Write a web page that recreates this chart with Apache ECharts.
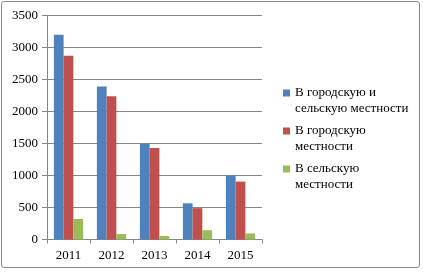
<!DOCTYPE html>
<html><head><meta charset="utf-8">
<script src="https://cdn.jsdelivr.net/npm/echarts@6/dist/echarts.min.js"></script>
<style>
html,body{margin:0;padding:0;background:#fff;}
#c{position:absolute;left:0;top:0;width:423px;height:272px;}
#f{position:absolute;left:1px;top:1px;width:419px;height:267px;border:1px solid #8a8a8a;border-radius:3px;box-sizing:border-box;}
</style></head><body>
<div id="c"></div><div id="f"></div>
<script>
var categories = ['2011','2012','2013','2014','2015'];
var seriesNames = ['В городскую и\nсельскую местности','В городскую\nместности','В сельскую\nместности'];
var totalValues = [3200, 2390, 1495, 565, 1000];
var urbanValues = [2870, 2240, 1430, 490, 905];
var ruralValues = [320, 85, 55, 145, 95];
var yTicks = [0, 500, 1000, 1500, 2000, 2500, 3000, 3500];
var colors = ['#4F81BD','#C0504D','#9BBB59'];
var font = '"Liberation Serif", "Times New Roman", serif';
var chart = echarts.init(document.getElementById('c'), null, {renderer:'canvas'});
chart.setOption({
  animation:false,
  color: colors,
  textStyle:{fontFamily:font},
  grid:{left:47,right:161,top:15.5,bottom:32.5,containLabel:false},
  legend:{
    orient:'vertical', left:278, top:80, itemWidth:7, itemHeight:23, itemGap:6,
    icon:'path://M0,0L7,0L7,7L0,7Z M0,23L7,23',
    textStyle:{fontFamily:font,fontSize:13,color:'#000',lineHeight:16},
    data: seriesNames
  },
  xAxis:{
    type:'category', data:categories,
    axisLine:{lineStyle:{color:'#868686'}},
    axisTick:{show:true,length:4,lineStyle:{color:'#868686'}},
    axisLabel:{color:'#000',fontFamily:font,fontSize:13,margin:10}
  },
  yAxis:{
    type:'value', min:0, max:3500, interval:500,
    axisLine:{show:true,lineStyle:{color:'#868686'}},
    axisTick:{show:true,length:5,lineStyle:{color:'#868686'}},
    splitLine:{lineStyle:{color:'#868686'}},
    axisLabel:{color:'#000',fontFamily:font,fontSize:13,margin:9,
      formatter:function(v){return yTicks.indexOf(v)>=0? String(v):'';}}
  },
  series:[
    {name:seriesNames[0],type:'bar',data:totalValues,barGap:'0%',barCategoryGap:'32%'},
    {name:seriesNames[1],type:'bar',data:urbanValues,barGap:'0%',barCategoryGap:'32%'},
    {name:seriesNames[2],type:'bar',data:ruralValues,barGap:'0%',barCategoryGap:'32%'}
  ]
});
</script></body></html>
